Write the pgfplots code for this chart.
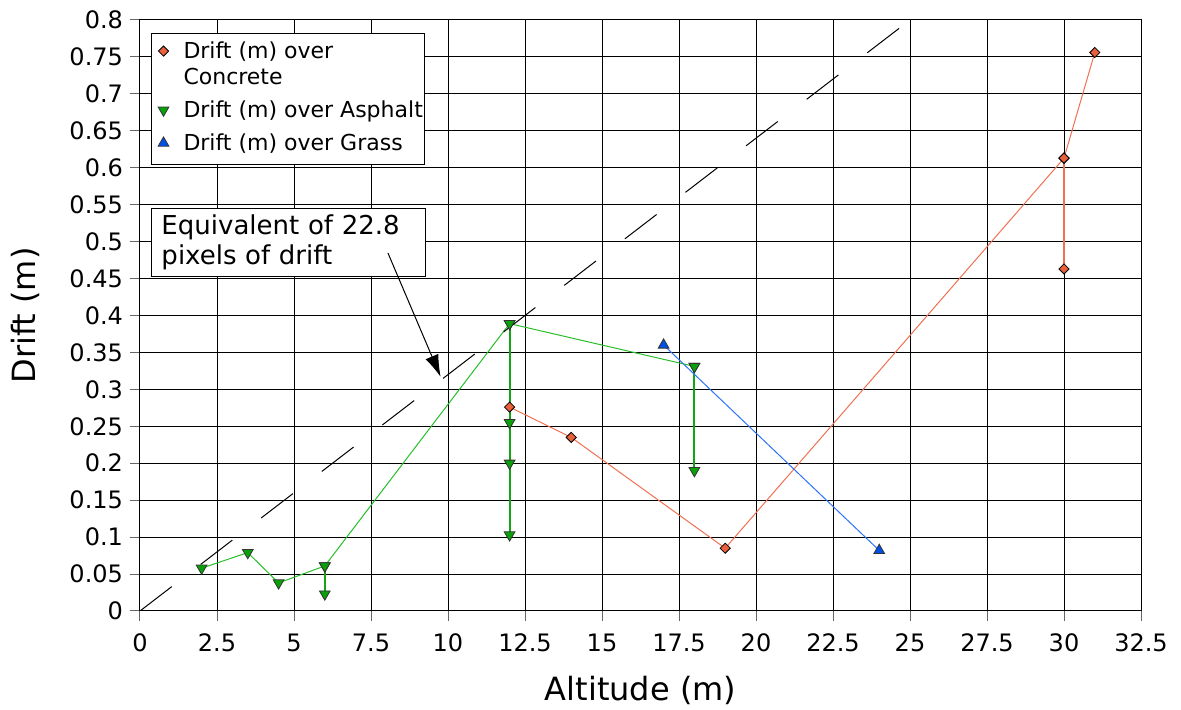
\documentclass[border=0pt]{standalone}
\usepackage{fontspec}
\setmainfont{DejaVu Sans}
\usepackage{pgfplots}
\pgfplotsset{compat=1.18}
\usetikzlibrary{arrows.meta}
\definecolor{cdia}{RGB}{232,96,60}
\definecolor{cline}{RGB}{240,112,82}
\definecolor{gmark}{RGB}{10,160,10}
\definecolor{gline}{RGB}{40,190,40}
\definecolor{gvert}{RGB}{20,165,20}
\definecolor{bmark}{RGB}{0,80,230}
\definecolor{bline}{RGB}{45,115,250}
\pgfplotsset{
  mylegimg/.style={legend image code/.code={%
    \path[draw=none, fill=none] (-5pt,-2pt) rectangle (10pt,7pt);
    \draw[##1] plot[only marks] coordinates {(0pt,3.5pt)};}},
  concmark/.style={mark=square*, mark size=1.8pt, mark options={rotate=45, fill=cdia, draw=black, line width=0.4pt, solid}},
  asphmark/.style={mark=triangle*, mark size=3.1pt, mark options={rotate=180, fill=gmark, draw=black!80, line width=0.4pt, solid}},
  grassmark/.style={mark=triangle*, mark size=3.1pt, mark options={fill=bmark, draw=black!80, line width=0.4pt, solid}},
}
\begin{document}
\begin{tikzpicture}
\begin{axis}[
  scale only axis, width=500.5pt, height=295.5pt,
  xmin=0, xmax=32.5, ymin=0, ymax=0.8,
  xtick={0,2.5,5,7.5,10,12.5,15,17.5,20,22.5,25,27.5,30,32.5},
  ytick={0,0.05,0.1,0.15,0.2,0.25,0.3,0.35,0.4,0.45,0.5,0.55,0.6,0.65,0.7,0.75,0.8},
  grid=major, major grid style={black, line width=0.5pt},
  axis line style={black, line width=0.5pt},
  tick align=outside, xtick pos=bottom, ytick pos=left, major tick length=5pt,
  tick style={black!60, line width=0.5pt},
  /pgf/number format/assume math mode=true,
  ticklabel style={font=\fontsize{12}{14}\selectfont},
  yticklabel style={/pgf/number format/fixed, /pgf/number format/precision=2},
  xticklabel style={/pgf/number format/fixed, yshift=-3pt},
  xlabel={Altitude (m)}, ylabel={Drift (m)},
  label style={font=\fontsize{16}{19}\selectfont},
  xlabel style={at={(axis description cs:0.5,-0.1337)}, anchor=center},
  ylabel style={at={(axis description cs:-0.1144,0.5)}, anchor=center},
  legend cell align=left,
  legend style={at={(0.011,0.978)}, anchor=north west, draw=black, line width=0.5pt, fill=white,
    inner xsep=1pt, inner ysep=3.2pt, row sep=3.5pt, column sep=0pt,
    font=\fontsize{11}{13}\selectfont,
    nodes={inner sep=0pt, text depth=}, cells={anchor=base west}},
]
\addlegendimage{concmark, mylegimg}
\addlegendentry{\begin{tabular}[t]{@{}l@{}}Drift (m) over\\Concrete\end{tabular}}
\addlegendimage{asphmark, mylegimg}
\addlegendentry{\strut Drift (m) over Asphalt}
\addlegendimage{grassmark, mylegimg}
\addlegendentry{\strut Drift (m) over Grass}

% Asphalt
\addplot[gvert, line width=1pt, asphmark, forget plot] coordinates {(6,0.061)(6,0.023)};
\addplot[gvert, line width=1pt, asphmark, forget plot] coordinates {(12,0.389)(12,0.255)(12,0.2)(12,0.103)};
\addplot[gvert, line width=1pt, asphmark, forget plot] coordinates {(18,0.331)(18,0.19)};
\addplot[gline, line width=0.5pt, asphmark, forget plot] coordinates {(2,0.058)(3.5,0.079)(4.5,0.038)(6,0.061)(12,0.389)(18,0.331)};
% Concrete
\addplot[cline, line width=1pt, concmark, forget plot] coordinates {(30,0.613)(30,0.463)};
\addplot[cline, line width=0.5pt, concmark, forget plot] coordinates {(12,0.276)(14,0.235)(19,0.085)(30,0.613)(31,0.756)};
% Grass
\addplot[bline, line width=0.5pt, grassmark, forget plot] coordinates {(17,0.36)(24,0.082)};
% Reference line
\addplot[black, line width=0.5pt, dash pattern=on 20pt off 18.2pt, forget plot] coordinates {(0,0)(25,0.8)};

\node[draw=black, line width=0.5pt, fill=white, anchor=north west, align=left,
  inner xsep=5pt, inner ysep=3pt, text width=127pt, font=\fontsize{13}{15.3}\selectfont]
  at (axis cs:0.357,0.5455) {Equivalent of 22.8\\pixels of drift};
\draw[-{Latex[length=11pt,width=7pt]}, line width=0.5pt] (axis cs:8.05,0.4846) -- (axis cs:9.76,0.317);
\end{axis}
\pgfresetboundingbox
\path ([shift={(-70pt,-49.5pt)}]current axis.south west) rectangle ([shift={(20pt,10pt)}]current axis.north east);
\end{tikzpicture}
\end{document}
